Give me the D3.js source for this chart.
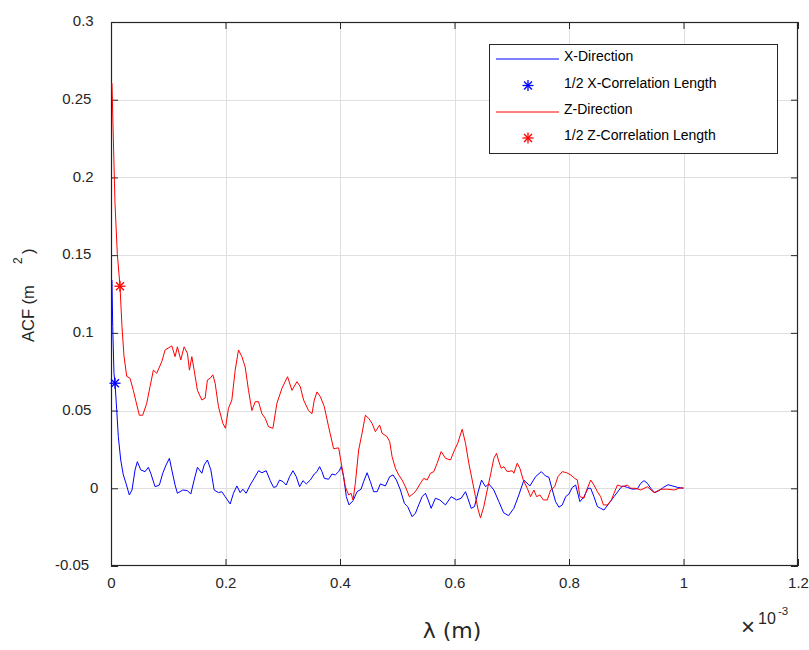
<!DOCTYPE html>
<html>
<head>
<meta charset="utf-8">
<script src="https://cdn.jsdelivr.net/npm/d3@7/dist/d3.min.js"></script>
<style>
  html, body { margin: 0; padding: 0; background: #fff; }
  svg { display: block; font-family: "Liberation Sans", Arial, Helvetica, sans-serif; }
</style>
</head>
<body>
<svg id="chart" width="809" height="650"></svg>
<script>
// ---------------- DATA ----------------
// lambda in units of 1e-3 m
const xTicks = [0, 0.2, 0.4, 0.6, 0.8, 1, 1.2];
const xTickLabels = ["0", "0.2", "0.4", "0.6", "0.8", "1", "1.2"];
const yTicks = [-0.05, 0, 0.05, 0.1, 0.15, 0.2, 0.25, 0.3];
const yTickLabels = ["-0.05", "0", "0.05", "0.1", "0.15", "0.2", "0.25", "0.3"];

const seriesNames = ["X-Direction", "1/2 X-Correlation Length", "Z-Direction", "1/2 Z-Correlation Length"];

const xDirLambda = [0.0017,0.0030,0.0052,0.0070,0.0100,0.0128,0.0170,0.0215,0.0262,0.0320,0.0367,0.0420,0.0460,0.0520,0.0595,0.0652,0.0694,0.0770,0.0845,0.0904,0.0962,0.1020,0.1062,0.1119,0.1160,0.1254,0.1335,0.1394,0.1452,0.1510,0.1587,0.1627,0.1684,0.1744,0.1802,0.1877,0.1936,0.1994,0.2082,0.2139,0.2199,0.2256,0.2304,0.2361,0.2431,0.2501,0.2577,0.2636,0.2711,0.2781,0.2839,0.2886,0.2944,0.3003,0.3061,0.3119,0.3178,0.3236,0.3294,0.3353,0.3411,0.3481,0.3551,0.3598,0.3644,0.3686,0.3726,0.3801,0.3860,0.3918,0.3976,0.4023,0.4063,0.4111,0.4158,0.4228,0.4298,0.4368,0.4413,0.4473,0.4530,0.4588,0.4648,0.4705,0.4793,0.4868,0.4927,0.4985,0.5055,0.5125,0.5183,0.5260,0.5318,0.5375,0.5435,0.5492,0.5540,0.5592,0.5667,0.5743,0.5842,0.5942,0.6035,0.6117,0.6192,0.6233,0.6292,0.6349,0.6414,0.6472,0.6542,0.6600,0.6687,0.6775,0.6857,0.6944,0.7037,0.7124,0.7212,0.7317,0.7416,0.7516,0.7591,0.7649,0.7709,0.7766,0.7824,0.7883,0.7941,0.7999,0.8058,0.8116,0.8191,0.8261,0.8331,0.8379,0.8436,0.8496,0.8553,0.8611,0.8699,0.8786,0.8874,0.8933,0.9021,0.9108,0.9195,0.9253,0.9311,0.9370,0.9428,0.9498,0.9573,0.9650,0.9731,0.9808,0.9895,1.0000];
const xDirACF = [0.134,0.104,0.074,0.0676,0.0504,0.0332,0.0182,0.0086,0.0032,-0.0043,-0.0011,0.0118,0.0171,0.0118,0.0107,0.0135,0.0097,0.0010,0.0021,0.0097,0.0150,0.0193,0.0118,0.0021,-0.0032,-0.0011,-0.0015,-0.0037,0.0053,0.0135,0.0097,0.0150,0.0182,0.0118,-0.0011,-0.0028,-0.0022,-0.0054,-0.0101,-0.0032,0.0015,-0.0028,-0.0006,-0.0032,0.0021,0.0064,0.0113,0.0100,0.0113,0.0049,0.0006,0.0010,0.0053,0.0043,0.0021,0.0075,0.0113,0.0075,0.0010,0.0049,0.0028,0.0053,0.0092,0.0107,0.0139,0.0107,0.0064,0.0058,0.0092,0.0086,0.0107,0.0139,0.0075,-0.0054,-0.0107,-0.0080,-0.0022,-0.0006,0.0043,0.0100,0.0043,-0.0022,-0.0022,0.0028,0.0015,0.0075,0.0086,0.0053,-0.0011,-0.0097,-0.0118,-0.0183,-0.0160,-0.0107,-0.0054,-0.0032,-0.0075,-0.0129,-0.0064,-0.0075,-0.0107,-0.0054,-0.0075,-0.0064,-0.0022,-0.0064,-0.0129,-0.0118,-0.0022,0.0053,0.0010,0.0028,-0.0011,-0.0086,-0.0157,-0.0176,-0.0129,-0.0043,0.0053,0.0015,0.0075,0.0107,0.0079,0.0071,-0.0011,-0.0086,-0.0122,-0.0107,-0.0054,-0.0037,0.0006,0.0021,-0.0086,-0.0054,0.0000,0.0000,-0.0054,-0.0118,-0.0129,-0.0140,-0.0097,-0.0054,-0.0011,0.0015,0.0006,-0.0006,-0.0003,0.0032,0.0049,0.0032,0.0000,-0.0028,-0.0015,0.0006,0.0023,0.0015,0.0006,0.0000];

const zDirLambda = [0.0017,0.0040,0.0070,0.0110,0.0157,0.0192,0.0227,0.0275,0.0332,0.0390,0.0437,0.0495,0.0554,0.0624,0.0682,0.0740,0.0799,0.0887,0.0945,0.1062,0.1119,0.1160,0.1219,0.1277,0.1335,0.1370,0.1412,0.1452,0.1510,0.1587,0.1644,0.1684,0.1732,0.1779,0.1819,0.1877,0.1954,0.1999,0.2052,0.2111,0.2169,0.2227,0.2286,0.2344,0.2402,0.2461,0.2519,0.2577,0.2636,0.2694,0.2751,0.2828,0.2898,0.2986,0.3084,0.3161,0.3248,0.3306,0.3364,0.3451,0.3511,0.3551,0.3598,0.3656,0.3726,0.3801,0.3888,0.3976,0.4018,0.4093,0.4151,0.4193,0.4228,0.4268,0.4326,0.4385,0.4443,0.4501,0.4560,0.4618,0.4693,0.4735,0.4822,0.4868,0.4910,0.4968,0.5025,0.5085,0.5143,0.5212,0.5288,0.5335,0.5405,0.5463,0.5522,0.5580,0.5638,0.5697,0.5767,0.5842,0.5930,0.6000,0.6057,0.6134,0.6192,0.6250,0.6309,0.6367,0.6414,0.6454,0.6512,0.6572,0.6635,0.6687,0.6734,0.6775,0.6816,0.6862,0.6921,0.7009,0.7037,0.7096,0.7142,0.7201,0.7271,0.7329,0.7387,0.7434,0.7492,0.7551,0.7621,0.7679,0.7749,0.7807,0.7883,0.7959,0.8029,0.8099,0.8146,0.8191,0.8261,0.8321,0.8379,0.8436,0.8496,0.8553,0.8601,0.8671,0.8741,0.8786,0.8846,0.8933,0.9021,0.9078,0.9166,0.9253,0.9370,0.9486,0.9603,0.9720,0.9836,0.9923,1.0000];
const zDirACF = [0.2606,0.226,0.183,0.151,0.130,0.104,0.085,0.072,0.0708,0.063,0.0557,0.047,0.047,0.0547,0.0654,0.076,0.074,0.0815,0.089,0.0916,0.0847,0.091,0.0826,0.091,0.0869,0.076,0.0847,0.076,0.063,0.0568,0.058,0.0697,0.0708,0.073,0.0676,0.0525,0.0418,0.0386,0.0515,0.0568,0.076,0.089,0.0847,0.078,0.063,0.050,0.0557,0.0557,0.048,0.045,0.0396,0.0386,0.0547,0.0643,0.0718,0.063,0.0686,0.0654,0.0568,0.050,0.048,0.0568,0.062,0.059,0.0525,0.0396,0.0255,0.026,0.017,0.001,-0.0043,-0.0032,-0.0075,0.0032,0.0246,0.0354,0.047,0.045,0.0418,0.0364,0.0407,0.0354,0.0332,0.030,0.0203,0.0129,0.0086,0.0053,0.001,-0.0054,-0.0032,-0.0011,0.0032,0.0064,0.0053,0.0097,0.0107,0.0161,0.0236,0.0193,0.0182,0.0246,0.029,0.038,0.029,0.0161,0.0053,-0.0054,-0.014,-0.019,-0.0118,-0.0011,0.0097,0.0193,0.0225,0.0171,0.0129,0.0139,0.0107,0.0113,0.0097,0.0161,0.0129,0.0053,0.0000,-0.0054,-0.0011,-0.0054,-0.0043,-0.0075,-0.0075,-0.0011,0.001,0.0075,0.0107,0.010,0.0086,0.0064,0.0053,-0.0054,-0.0064,0.0000,0.0053,0.0021,-0.0022,-0.0054,-0.0107,-0.0107,-0.0075,-0.0032,0.0021,0.001,0.0021,0.0000,0.0000,-0.0011,0.001,-0.0028,-0.0006,-0.0006,-0.0011,0.0000,0.0004];

// half correlation length markers [lambda (1e-3 m), ACF]
const xHalfCorr = [0.0070, 0.0676];
const zHalfCorr = [0.0157, 0.130];

const seriesColors = ["#0000ff", "#ff0000"];

// ---------------- CHART ----------------
const svg = d3.select("#chart");
const W = 809, H = 650;
const L = 111, R = 798, T = 22, B = 566;
const axisColor = "#262626";
const gridColor = "#dfdfdf";
const tickLen = 7;

svg.append("rect").attr("width", W).attr("height", H).attr("fill", "#fff");

const x = d3.scaleLinear().domain([0, 1.2]).range([L, R]);
const y = d3.scaleLinear().domain([-0.05, 0.3]).range([B, T]);

// grid
const grid = svg.append("g");
grid.selectAll("line.vg").data(xTicks.slice(1, -1)).join("line")
  .attr("x1", d => Math.round(x(d)) + 0.5).attr("x2", d => Math.round(x(d)) + 0.5)
  .attr("y1", T).attr("y2", B).attr("stroke", gridColor).attr("stroke-width", 1);
grid.selectAll("line.hg").data(yTicks.slice(1, -1)).join("line")
  .attr("y1", d => Math.round(y(d)) + 0.5).attr("y2", d => Math.round(y(d)) + 0.5)
  .attr("x1", L).attr("x2", R).attr("stroke", gridColor).attr("stroke-width", 1);

const fmtX = (d) => xTickLabels[xTicks.indexOf(d)];
const fmtY = (d) => yTickLabels[yTicks.indexOf(d)];

function styleAxis(g) {
  g.selectAll(".domain").remove();
  g.selectAll(".tick line").attr("stroke", axisColor).attr("stroke-width", 1);
  g.selectAll(".tick text").attr("fill", axisColor).attr("font-size", "15px")
    .attr("font-family", "'Liberation Sans', Arial, sans-serif");
}

const gB = svg.append("g").attr("transform", `translate(0,${B})`)
  .call(d3.axisBottom(x).tickValues(xTicks).tickFormat(fmtX).tickSizeInner(-tickLen).tickSizeOuter(0).tickPadding(13));
styleAxis(gB);
gB.selectAll(".tick text").attr("dy", "0.71em").attr("y", 11);

const gT = svg.append("g").attr("transform", `translate(0,${T})`)
  .call(d3.axisTop(x).tickValues(xTicks).tickFormat("").tickSizeInner(-tickLen).tickSizeOuter(0));
styleAxis(gT);

const gL = svg.append("g").attr("transform", `translate(${L},0)`)
  .call(d3.axisLeft(y).tickValues(yTicks).tickFormat(fmtY).tickSizeInner(-tickLen).tickSizeOuter(0).tickPadding(15));
styleAxis(gL);
gL.selectAll(".tick text").attr("dy", "0.25em")
  .attr("x", d => -(12.7 + 2.3 * (fmtY(d).length - 1)));

const gR = svg.append("g").attr("transform", `translate(${R},0)`)
  .call(d3.axisRight(y).tickValues(yTicks).tickFormat("").tickSizeInner(-tickLen).tickSizeOuter(0));
styleAxis(gR);

// box
svg.append("rect").attr("x", L + 0.5).attr("y", T + 0.5).attr("width", R - L - 1).attr("height", B - T - 1)
  .attr("fill", "none").attr("stroke", axisColor).attr("stroke-width", 1.2);

// lines
const line = d3.line().x(d => x(d[0])).y(d => y(d[1]));
const xData = xDirLambda.map((v, i) => [v, xDirACF[i]]);
const zData = zDirLambda.map((v, i) => [v, zDirACF[i]]);

svg.append("path").datum(xData).attr("d", line).attr("fill", "none")
  .attr("stroke", seriesColors[0]).attr("stroke-width", 1).attr("stroke-linejoin", "round");
svg.append("path").datum(zData).attr("d", line).attr("fill", "none")
  .attr("stroke", seriesColors[1]).attr("stroke-width", 1).attr("stroke-linejoin", "round");

// asterisk marker
function star(g, cx, cy, r, color) {
  const s = g.append("g").attr("transform", `translate(${cx},${cy})`)
    .attr("stroke", color).attr("stroke-width", 1.3).attr("fill", "none");
  s.append("line").attr("x1", -r).attr("x2", r).attr("y1", 0).attr("y2", 0);
  s.append("line").attr("x1", 0).attr("x2", 0).attr("y1", -r).attr("y2", r);
  const k = r * 0.72;
  s.append("line").attr("x1", -k).attr("x2", k).attr("y1", -k).attr("y2", k);
  s.append("line").attr("x1", -k).attr("x2", k).attr("y1", k).attr("y2", -k);
}
star(svg, x(xHalfCorr[0]), y(xHalfCorr[1]), 5.5, seriesColors[0]);
star(svg, x(zHalfCorr[0]), y(zHalfCorr[1]), 5.5, seriesColors[1]);

// legend
const lg = svg.append("g");
lg.append("rect").attr("x", 489.5).attr("y", 44.5).attr("width", 288).attr("height", 109)
  .attr("fill", "#fff").attr("stroke", axisColor).attr("stroke-width", 1);
const legRows = [
  { type: "line", color: seriesColors[0], cy: 59, ty: 61, label: seriesNames[0] },
  { type: "star", color: seriesColors[0], cy: 85.5, ty: 87.5, label: seriesNames[1] },
  { type: "line", color: seriesColors[1], cy: 112, ty: 113.5, label: seriesNames[2] },
  { type: "star", color: seriesColors[1], cy: 138, ty: 140, label: seriesNames[3] }
];
legRows.forEach(r => {
  if (r.type === "line") {
    lg.append("line").attr("x1", 496).attr("x2", 559).attr("y1", r.cy).attr("y2", r.cy)
      .attr("stroke", r.color).attr("stroke-width", 1);
  } else {
    star(lg, 528, r.cy, 5.5, r.color);
  }
  lg.append("text").attr("x", 564).attr("y", r.ty).attr("font-size", "14px")
    .attr("fill", "#000").text(r.label);
});

// y label: "ACF (m" + superscript "2" + ")"
svg.append("text").attr("transform", "translate(34,342) rotate(-90)")
  .attr("font-size", "16.5px").attr("fill", axisColor).text("ACF (m");
svg.append("text").attr("transform", "translate(22,264) rotate(-90)")
  .attr("font-size", "12px").attr("fill", axisColor).text("2");
svg.append("text").attr("transform", "translate(34,254) rotate(-90)")
  .attr("font-size", "16.5px").attr("fill", axisColor).text(")");

// x label
svg.append("text").attr("x", 452).attr("y", 638).attr("text-anchor", "middle")
  .attr("font-size", "22px").attr("fill", axisColor)
  .attr("font-family", "'DejaVu Sans', 'Liberation Sans', sans-serif").text("λ (m)");

// exponent label
svg.append("text").attr("x", 741).attr("y", 635).attr("font-size", "24px").attr("fill", axisColor)
  .attr("font-weight", "300").text("×");
svg.append("text").attr("x", 758).attr("y", 624).attr("font-size", "16px").attr("fill", axisColor).text("10");
svg.append("text").attr("x", 778).attr("y", 615).attr("font-size", "11.5px").attr("fill", axisColor).text("-3");
</script>
</body>
</html>
